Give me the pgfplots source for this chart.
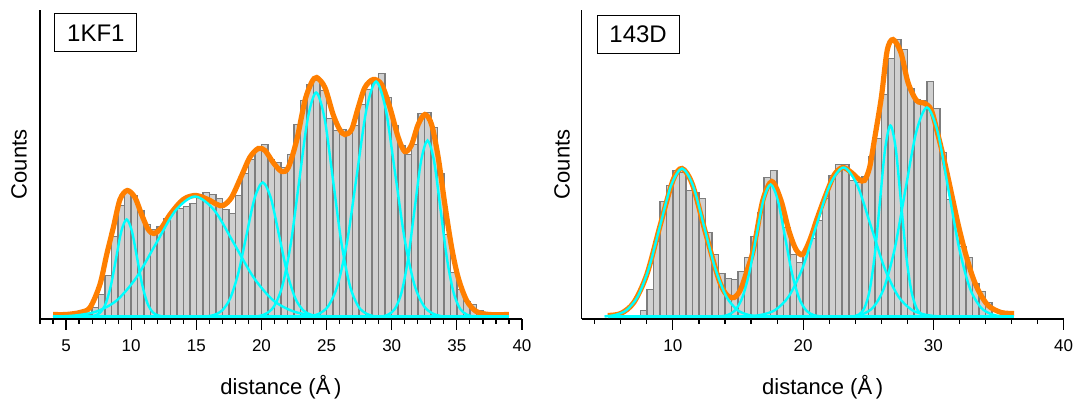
\documentclass[border=0pt]{standalone}
\usepackage{fontspec}
\setmainfont{Liberation Sans}
\usepackage{pgfplots}
\pgfplotsset{compat=1.18}

\definecolor{fitorange}{RGB}{255,127,0}
\definecolor{peakcyan}{RGB}{0,255,255}
\definecolor{bargray}{RGB}{125,125,125}
\definecolor{barfill}{RGB}{208,208,208}

\tikzset{
  tagbox/.style={draw, line width=0.5pt, minimum width=41pt, minimum height=19pt,
    inner sep=0pt, font=\fontsize{12}{14}\selectfont},
}
\pgfplotsset{
  panel/.style={
    scale only axis, width=241pt, height=154.5pt,
    xmin=3, xmax=40, ymin=-2.5, ymax=306.5,
    axis lines*=left,
    axis line style={line width=0.6pt, black},
    ytick=\empty,
    tick align=outside,
    major tick length=5.5pt, minor tick length=2.5pt,
    every tick/.style={black, line width=0.6pt},
    /pgf/number format/assume math mode=true,
    xticklabel style={font=\fontsize{8.5}{10}\selectfont, anchor=base, yshift=-11pt},
    xlabel={distance (Å\,)}, ylabel={Counts},
    every axis x label/.style={at={(axis description cs:0.5,0)}, anchor=base, yshift=-38pt,
      font=\fontsize{11}{13}\selectfont},
    every axis y label/.style={at={(axis description cs:-0.0436,0.5)}, rotate=90, anchor=center,
      font=\fontsize{11}{13}\selectfont},
  },
  histbars/.style={ybar interval, draw=bargray, line width=0.75pt, fill=barfill},
  sumfit/.style={fitorange, line width=2.6pt, smooth},
  onepeak/.style={peakcyan, line width=1.2pt, smooth},
  zeroline/.style={peakcyan, line width=1.6pt},
}

\begin{document}
\begin{tikzpicture}
\path[use as bounding box] (-20pt,-40.5pt) rectangle (518pt,159.5pt);

% ---- 1KF1 ----
\begin{axis}[panel, at={(0,0)}, anchor=south west,
  xtick={5,10,...,40}, minor xtick={3,4,...,40}]
\addplot[histbars] coordinates {
(6.5,2)(7,9)(7.5,22)(8,41)(8.5,80)(9,111)(9.5,125)(10,121)(10.5,106)(11,92)
(11.5,87)(12,90)(12.5,98)(13,105)(13.5,108)(14,110)(14.5,113)(15,122)(15.5,124)
(16,122)(16.5,118)(17,107)(17.5,103)(18,121)(18.5,143)(19,157)(19.5,167)(20,172)
(20.5,157)(21,154)(21.5,149)(22,162)(22.5,192)(23,216)(23.5,232)(24,236)(24.5,226)
(25,198)(25.5,186)(26,187)(26.5,184)(27,191)(27.5,212)(28,227)(28.5,234)(29,243)
(29.5,219)(30,191)(30.5,171)(31,162)(31.5,172)(32,203)(32.5,204)(33,189)(33.5,143)
(34,82)(34.5,44)(35,27)(35.5,15)(36,12)(36.5,6)(37,0)};
\addplot[sumfit] coordinates {
(4,2)(5,2)(6.07,4)(6.84,9)(7.6,32)(8.12,62)(8.63,89)(9.14,117)(9.7,126)(10.29,119)
(10.8,102)(11.31,87)(11.75,83)(12.34,89)(12.98,102)(13.74,114)(14.26,119)(15,121)
(15.9,117)(16.6,112)(17.07,111)(17.7,119)(18.48,141)(19.1,159)(19.75,168)(20.27,166)
(20.9,154)(21.55,145)(22.06,149)(22.7,176)(23.34,216)(23.85,234)(24.24,239)(24.87,229)
(25.5,202)(26,187)(26.4,182)(26.92,187)(27.43,209)(27.94,229)(28.58,237)(29.22,232)
(29.86,209)(30.5,179)(31,165)(31.5,171)(32.03,192)(32.55,202)(33.06,192)(33.57,159)
(34.08,112)(34.6,69)(35.1,39)(35.75,16)(36.5,5)(37.5,2)(39,2)};
\addplot[zeroline] coordinates {(4,0)(39,0)};
\addplot[onepeak] coordinates {(6.85,0)(7.25,1.1)(7.65,4.3)(8.05,13.1)(8.45,31.5)(8.85,58.8)
(9.25,85.6)(9.65,97)(10.05,85.6)(10.45,58.8)(10.85,31.5)(11.25,13.1)(11.65,4.3)(12.05,1.1)(12.45,0)};
\addplot[onepeak] coordinates {(4.4,0)(5.9,1.3)(7.4,5.3)(8.9,16.2)(10.4,39)(11.9,72.8)
(13.4,105.9)(14.9,120)(16.4,105.9)(17.9,72.8)(19.4,39)(20.9,16.2)(22.4,5.3)(23.9,1.3)(25.4,0)};
\addplot[onepeak] coordinates {(15.725,0)(16.35,1.5)(16.975,5.9)(17.6,18.1)(18.225,43.5)(18.85,81.3)
(19.475,118.3)(20.1,134)(20.725,118.3)(21.35,81.3)(21.975,43.5)(22.6,18.1)(23.225,5.9)(23.85,1.5)(24.475,0)};
\addplot[onepeak] coordinates {(19.65,0)(20.3,2.5)(20.95,9.8)(21.6,30.3)(22.25,72.7)(22.9,135.9)
(23.55,197.7)(24.2,224)(24.85,197.7)(25.5,135.9)(26.15,72.7)(26.8,30.3)(27.45,9.8)(28.1,2.5)(28.75,0)};
\addplot[onepeak] coordinates {(23.655,0)(24.39,2.6)(25.125,10.3)(25.86,31.8)(26.595,76.3)(27.33,142.5)
(28.065,207.4)(28.8,235)(29.535,207.4)(30.27,142.5)(31.005,76.3)(31.74,31.8)(32.475,10.3)(33.21,2.6)(33.945,0)};
\addplot[onepeak] coordinates {(29.25,0)(29.75,2)(30.25,7.7)(30.75,23.8)(31.25,57.1)(31.75,106.7)
(32.25,155.3)(32.75,176)(33.25,155.3)(33.75,106.7)(34.25,57.1)(34.75,23.8)(35.25,7.7)(35.75,2)(36.25,0)};
\node[tagbox] at (rel axis cs:0.116,0.926) {1KF1};
\end{axis}

% ---- 143D ----
\begin{axis}[panel, at={(270.85pt,0)}, anchor=south west,
  xtick={10,20,30,40}, minor xtick={4,6,...,38},
  every axis y label/.append style={at={(axis description cs:-0.041,0.5)}}]
\addplot[histbars] coordinates {
(7.5,6)(8,27)(8.5,75)(9,115)(9.5,131)(10,146)(10.5,144)(11,126)(11.5,124)(12,118)
(12.5,84)(13,62)(13.5,43)(14,38)(14.5,37)(15,45)(15.5,59)(16,80)(16.5,104)(17,139)
(17.5,146)(18,114)(18.5,89)(19,62)(19.5,54)(20,64)(20.5,78)(21,96)(21.5,118)(22,141)
(22.5,152)(23,152)(23.5,136)(24,134)(24.5,140)(25,160)(25.5,178)(26,222)(26.5,258)
(27,277)(27.5,267)(28,228)(28.5,217)(29,216)(29.5,235)(30,208)(30.5,164)(31,117)
(31.5,92)(32,70)(32.5,59)(33,33)(33.5,25)(34,14)(34.5,0)};
\addplot[sumfit] coordinates {
(5,1)(6,3)(7,14)(8,42)(9,90)(10,136)(10.7,148)(11.5,132)(12.5,84)(13.5,38)(14.1,22)
(14.7,19)(15.2,27)(15.7,46)(16.2,68)(16.9,116)(17.6,135)(18.3,116)(18.9,86)(19.45,67)
(19.95,62)(20.5,76)(21.1,99)(21.75,122)(22.4,142)(23.05,149)(23.7,144)(24.3,137)
(24.7,136)(25.1,149)(25.5,179)(26,219)(26.45,266)(26.9,277)(27.5,264)(28.05,234)
(28.7,216)(29.35,213)(29.85,206)(30.4,179)(30.9,152)(31.4,122)(31.9,92)(32.4,66)
(32.95,42)(33.45,26)(34.2,11)(35.2,4)(36.2,3)};
\addplot[zeroline] coordinates {(5,0)(36.2,0)};
\addplot[onepeak] coordinates {(4.75,0)(5.6,1.6)(6.45,6.5)(7.3,20)(8.15,48.1)(9,89.8)
(9.85,130.6)(10.7,148)(11.55,130.6)(12.4,89.8)(13.25,48.1)(14.1,20)(14.95,6.5)(15.8,1.6)(16.65,0)};
\addplot[onepeak] coordinates {(13.65,0)(14.2,1.5)(14.75,5.8)(15.3,17.9)(15.85,42.9)(16.4,80.1)
(16.95,116.5)(17.5,132)(18.05,116.5)(18.6,80.1)(19.15,42.9)(19.7,17.9)(20.25,5.8)(20.8,1.5)(21.35,0)};
\addplot[onepeak] coordinates {(15.75,0)(16.8,1.7)(17.85,6.5)(18.9,20.2)(19.95,48.4)(21,90.4)
(22.05,131.5)(23.1,149)(24.15,131.5)(25.2,90.4)(26.25,48.4)(27.3,20.2)(28.35,6.5)(29.4,1.7)(30.45,0)};
\addplot[onepeak] coordinates {(23.9,0)(24.3,2.1)(24.7,8.4)(25.1,25.8)(25.5,62)(25.9,115.8)
(26.3,168.6)(26.7,191)(27.1,168.6)(27.5,115.8)(27.9,62)(28.3,25.8)(28.7,8.4)(29.1,2.1)(29.5,0)};
\addplot[onepeak] coordinates {(23.73,0)(24.55,2.3)(25.38,9.2)(26.2,28.3)(27.03,67.9)(27.85,126.8)
(28.68,184.4)(29.5,209)(30.33,184.4)(31.15,126.8)(31.98,67.9)(32.8,28.3)(33.63,9.2)(34.45,2.3)(35.28,0)};
\node[tagbox] at (rel axis cs:0.117,0.921) {143D};
\end{axis}
\end{tikzpicture}
\end{document}
